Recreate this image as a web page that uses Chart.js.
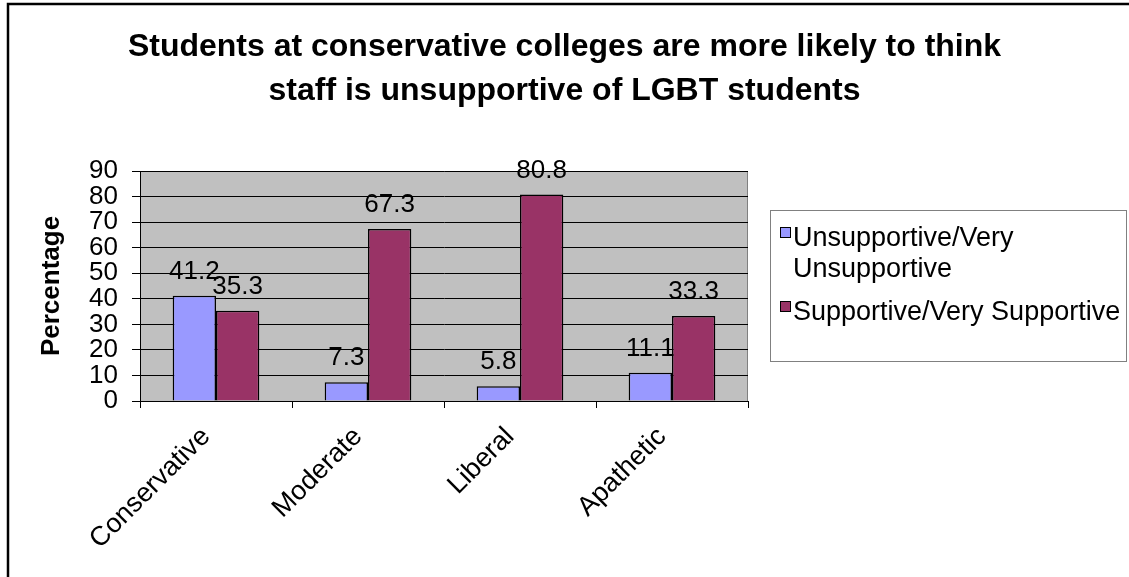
<!DOCTYPE html>
<html>
<head>
<meta charset="utf-8">
<script src="https://cdn.jsdelivr.net/npm/chart.js@4.4.0/dist/chart.umd.min.js"></script>
<style>
  html, body { margin: 0; padding: 0; background: #fff; }
  #wrap { width: 1129px; height: 577px; }
</style>
</head>
<body>
<div id="wrap"><canvas id="chart" width="1129" height="577"></canvas></div>
<script>
// --- data ---
const categories = ['Conservative', 'Moderate', 'Liberal', 'Apathetic'];
const seriesNames = ['Unsupportive/Very Unsupportive', 'Supportive/Very Supportive'];
const unsupportive = [41.2, 7.3, 5.8, 11.1];
const supportive = [35.3, 67.3, 80.8, 33.3];
const yTickValues = [0, 10, 20, 30, 40, 50, 60, 70, 80, 90];
const titleLines = ['Students at conservative colleges are more likely to think',
                    'staff is unsupportive of LGBT students'];
const seriesColors = ['#9999FF', '#993366'];

const FONT = '"Liberation Sans", Arial, sans-serif';

// title drawn across the full width (chart.js would clip it to the chart box)
const wideTitle = {
    id: 'wideTitle',
    afterDraw(chart) {
        const { ctx, width } = chart;
        ctx.save();
        ctx.font = 'bold 32px ' + FONT;
        ctx.fillStyle = '#000';
        ctx.textAlign = 'center';
        ctx.textBaseline = 'alphabetic';
        titleLines.forEach((t, i) => ctx.fillText(t, width / 2, 56 + i * 44));
        ctx.restore();
    }
};

// gray plot area with a thin gray frame
const plotBg = {
    id: 'plotBg',
    beforeDraw(chart) {
        const { ctx, chartArea: a } = chart;
        ctx.save();
        ctx.fillStyle = '#C0C0C0';
        ctx.fillRect(a.left, a.top, a.right - a.left, a.bottom - a.top);
        ctx.strokeStyle = '#808080';
        ctx.lineWidth = 1;
        ctx.strokeRect(a.left + 0.5, a.top + 0.5, a.right - a.left - 1, a.bottom - a.top);
        ctx.restore();
    }
};

// numbers above each bar
const valueLabels = {
    id: 'valueLabels',
    afterDatasetsDraw(chart) {
        const { ctx } = chart;
        ctx.save();
        ctx.font = '26px ' + FONT;
        ctx.fillStyle = '#000';
        ctx.textAlign = 'center';
        ctx.textBaseline = 'alphabetic';
        chart.data.datasets.forEach((ds, i) => {
            chart.getDatasetMeta(i).data.forEach((bar, j) => {
                ctx.fillText(String(ds.data[j]), bar.x, bar.y - 17);
            });
        });
        ctx.restore();
    }
};

// boxed legend on the right, long names wrapped
const boxLegend = {
    id: 'boxLegend',
    afterDraw(chart) {
        const { ctx } = chart;
        const box = { x: 770, y: 210, w: 357, h: 151 };
        ctx.save();
        ctx.strokeStyle = '#808080';
        ctx.lineWidth = 1;
        ctx.strokeRect(box.x + 0.5, box.y + 0.5, box.w - 1, box.h);
        ctx.font = '27px ' + FONT;
        ctx.fillStyle = '#000';
        ctx.textBaseline = 'alphabetic';
        const textX = 793, maxW = 334, lineH = 31;
        let baseline = 246;
        chart.data.datasets.forEach((ds) => {
            // wrap on spaces
            const words = ds.label.split(' ');
            const lines = [];
            let cur = '';
            words.forEach(w => {
                const test = cur ? cur + ' ' + w : w;
                if (cur && ctx.measureText(test).width > maxW) { lines.push(cur); cur = w; }
                else cur = test;
            });
            lines.push(cur);
            ctx.fillStyle = ds.backgroundColor;
            ctx.fillRect(780.5, baseline - 18.5, 10, 10);
            ctx.strokeStyle = '#000';
            ctx.strokeRect(780.5, baseline - 18.5, 10, 10);
            ctx.fillStyle = '#000';
            lines.forEach((ln, k) => ctx.fillText(ln, textX, baseline + k * lineH));
            baseline += lines.length * lineH + 12;
        });
        ctx.restore();
    }
};

// outer frame, left and top edges
const frame = {
    id: 'frame',
    afterDraw(chart) {
        const { ctx, width, height } = chart;
        ctx.save();
        ctx.strokeStyle = '#000';
        ctx.lineWidth = 2.5;
        ctx.beginPath();
        ctx.moveTo(8, height);
        ctx.lineTo(8, 4);
        ctx.lineTo(width, 4);
        ctx.stroke();
        ctx.restore();
    }
};

const chart = new Chart(document.getElementById('chart'), {
    type: 'bar',
    data: {
        labels: categories,
        datasets: [
            { label: seriesNames[0], data: unsupportive, backgroundColor: seriesColors[0],
              borderColor: '#000', borderWidth: 1.5 },
            { label: seriesNames[1], data: supportive, backgroundColor: seriesColors[1],
              borderColor: '#000', borderWidth: 1.5 }
        ]
    },
    options: {
        responsive: false,
        animation: false,
        datasets: { bar: { categoryPercentage: 0.57, barPercentage: 1.0 } },
        layout: { padding: { left: 32, right: 381, top: 171, bottom: 0 } },
        plugins: {
            legend: { display: false },
            tooltip: { enabled: false },
            title: { display: false }
        },
        scales: {
            x: {
                grid: { offset: true, drawOnChartArea: false, color: '#000', tickLength: 7 },
                border: { color: '#000', width: 1 },
                ticks: {
                    color: '#000', maxRotation: 45, minRotation: 45, padding: 13, labelOffset: -10,
                    font: { family: FONT, size: 27 }
                },
                afterFit(scale) { scale.height = 176; }
            },
            y: {
                min: 0,
                max: 90,
                afterBuildTicks(scale) { scale.ticks = yTickValues.map(v => ({ value: v })); },
                grid: { color: '#000', tickLength: 8 },
                border: { color: '#000', width: 1 },
                ticks: { color: '#000', padding: 14, autoSkip: false, font: { family: FONT, size: 26 } },
                title: {
                    display: true, text: 'Percentage', color: '#000',
                    font: { family: FONT, size: 26, weight: 'bold' }, padding: 4
                },
                afterFit(scale) { scale.width = 108; }
            }
        }
    },
    plugins: [plotBg, valueLabels, boxLegend, frame, wideTitle]
});
</script>
</body>
</html>
